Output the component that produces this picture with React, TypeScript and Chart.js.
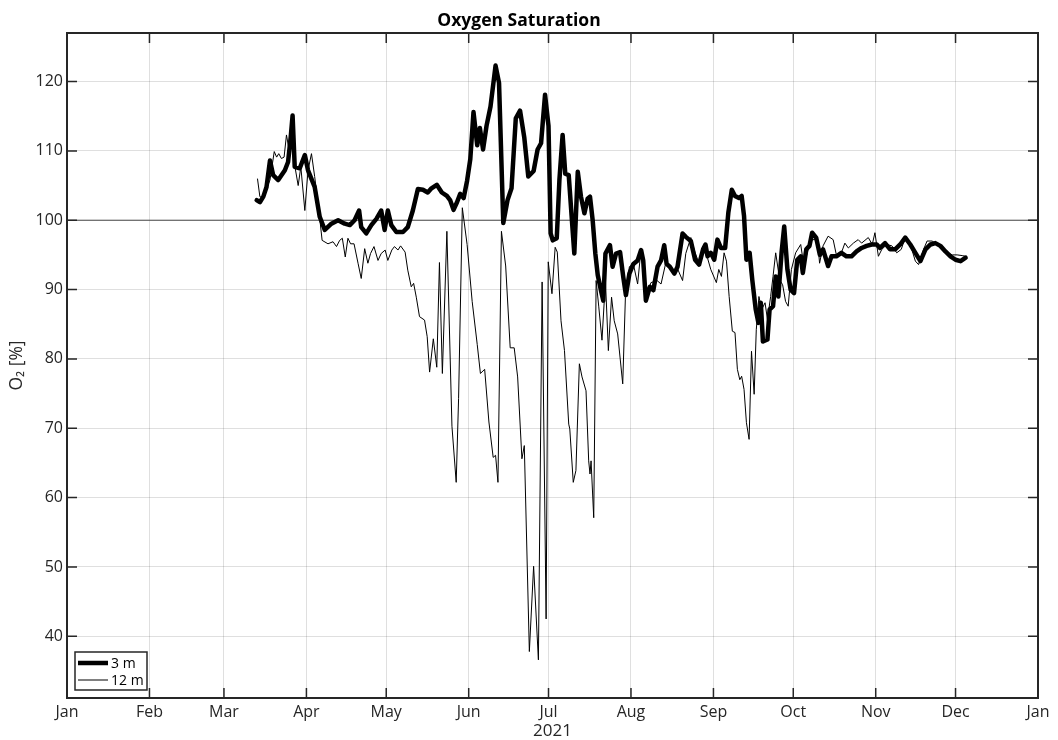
import React, { useEffect, useRef } from "react";
import { Chart, registerables } from "chart.js";

Chart.register(...registerables);

const FONT = "'Open Sans', 'DejaVu Sans', sans-serif";

// x axis: days since 1 Jan 2021
const MONTH_START_DAYS = [0, 31, 59, 90, 120, 151, 181, 212, 243, 273, 304, 334, 365];
const MONTH_LABELS = ["Jan", "Feb", "Mar", "Apr", "May", "Jun", "Jul", "Aug", "Sep", "Oct", "Nov", "Dec", "Jan"];
const X_TITLE = "2021";
const Y_TITLE = "O\u2082 [%]";
const CHART_TITLE = "Oxygen Saturation";
const Y_TICKS = [40, 50, 60, 70, 80, 90, 100, 110, 120];
const Y_MIN = 31.1;
const Y_MAX = 127;
const X_MIN = 0;
const X_MAX = 365;
const REFERENCE_LEVEL = 100;
const SERIES_LABELS = ["3 m", "12 m"];

const DAYS_3M = [
  71.3, 72.5, 73.8, 75.0, 76.3, 77.5, 79.4, 81.9, 83.1, 84.1, 84.8, 85.6, 87.5, 89.4, 90.6, 93.1, 95.0, 96.9,
  99.4, 101.9, 104.4, 106.3, 108.1, 109.8, 110.6, 112.5, 114.4, 116.3, 118.1, 119.4, 120.6, 121.9, 123.8, 126.3,
  128.1, 130.0, 131.9, 133.8, 135.6, 137.0, 139.0, 140.9, 142.8, 144.0, 145.3, 146.6, 147.8, 149.1, 150.4, 151.6,
  152.8, 154.2, 155.2, 156.4, 157.7, 159.2, 161.1, 162.4, 164.0, 165.6, 167.1, 168.7, 170.3, 171.9, 173.4, 175.4,
  176.9, 178.2, 179.7, 181.0, 181.8, 182.6, 184.1, 185.1, 186.3, 187.3, 188.6, 189.8, 190.7, 192.0, 193.2, 194.5,
  195.7, 196.6, 197.6, 198.6, 199.5, 200.7, 201.6, 202.4, 204.1, 205.1, 206.4, 207.9, 209.1, 210.1, 211.4, 212.9,
  214.5, 215.8, 216.6, 217.6, 219.1, 220.4, 222.0, 223.3, 224.5, 225.4, 226.6, 228.3, 229.5, 231.4, 232.6, 234.5,
  236.1, 237.6, 239.1, 240.0, 240.8, 242.0, 243.3, 244.5, 245.8, 247.4, 248.6, 249.9, 251.1, 252.6, 253.6, 254.5,
  255.4, 256.6, 257.6, 258.9, 259.9, 260.8, 261.6, 263.3, 264.1, 265.4, 266.4, 267.4, 268.6, 269.6, 270.8, 272.0,
  273.3, 274.5, 275.8, 276.6, 277.9, 279.1, 280.1, 281.6, 283.0, 284.2, 286.1, 287.4, 289.2, 291.1, 293.0, 294.9,
  296.8, 298.7, 300.6, 302.5, 304.4, 305.6, 307.5, 309.4, 311.3, 313.2, 315.1, 317.0, 318.9, 320.8, 322.7, 324.6,
  326.4, 328.3, 330.2, 332.1, 334.0, 335.9, 337.8,
];
const O2_3M = [
  102.9, 102.6, 103.4, 104.8, 108.6, 106.5, 105.8, 107.2, 108.4, 112.0, 115.1, 107.7, 107.5, 109.4, 107.2, 104.8, 100.5, 98.6,
  99.5, 100.0, 99.5, 99.3, 100.0, 101.4, 99.0, 98.1, 99.3, 100.2, 101.4, 98.6, 101.4, 99.3, 98.3, 98.3,
  99.0, 101.4, 104.5, 104.4, 104.0, 104.6, 105.1, 104.0, 103.5, 102.9, 101.5, 102.6, 103.8, 103.2, 105.7, 108.8,
  115.6, 110.8, 113.3, 110.2, 113.6, 116.4, 122.3, 119.8, 99.6, 102.9, 104.6, 114.7, 115.8, 111.9, 106.3, 107.1,
  110.2, 111.1, 118.1, 113.6, 98.1, 97.1, 97.4, 105.8, 112.3, 106.7, 106.5, 100.0, 95.2, 107.0, 103.4, 101.0,
  103.1, 103.4, 100.0, 95.2, 92.1, 89.9, 88.4, 95.2, 96.4, 93.3, 95.2, 95.4, 91.8, 89.2, 92.3, 93.7,
  94.2, 95.7, 94.2, 88.4, 90.4, 89.9, 93.3, 94.2, 96.4, 93.7, 93.3, 92.3, 93.3, 98.1, 97.6, 97.0,
  94.3, 93.6, 95.8, 96.5, 94.8, 95.3, 94.3, 97.2, 96.0, 96.0, 101.1, 104.4, 103.5, 103.2, 103.5, 100.6,
  94.3, 95.3, 91.4, 87.1, 85.2, 88.1, 82.5, 82.8, 87.1, 87.6, 91.9, 89.0, 95.3, 99.1, 92.9, 90.0,
  89.5, 94.3, 94.8, 92.4, 95.8, 96.3, 98.2, 97.5, 95.0, 95.8, 93.4, 94.8, 94.8, 95.3, 94.8, 94.8,
  95.5, 96.0, 96.3, 96.5, 96.5, 96.0, 96.7, 95.8, 95.8, 96.5, 97.5, 96.5, 95.3, 94.1, 95.8, 96.5,
  96.7, 96.3, 95.5, 94.8, 94.3, 94.1, 94.6,
];

const DAYS_12M = [
  71.6, 72.5, 73.8, 75.0, 76.3, 77.9, 78.8, 79.6, 80.6, 81.6, 82.5, 83.4, 84.4, 85.6, 86.9, 87.9, 89.4, 90.6,
  91.9, 93.1, 94.4, 95.9, 98.1, 100.0, 101.3, 102.5, 103.5, 104.6, 105.6, 106.6, 107.9, 109.4, 110.6, 111.9,
  113.1, 114.1, 115.4, 116.9, 118.1, 119.6, 120.6, 122.1, 123.1, 124.4, 125.4, 127.1, 128.1, 129.4, 130.3, 131.3,
  132.5, 134.4, 135.4, 136.3, 137.7, 139.0, 140.0, 141.1, 142.8, 144.7, 146.3, 147.2, 148.6, 150.4, 152.3, 154.2,
  155.4, 157.0, 158.6, 160.2, 161.1, 162.0, 163.3, 164.9, 166.6, 168.1, 169.4, 171.0, 171.9, 173.8, 175.4, 177.2,
  178.6, 180.1, 180.9, 182.3, 183.5, 184.3, 185.7, 187.0, 188.6, 189.0, 190.3, 191.3, 192.6, 193.6, 195.1, 196.1,
  196.6, 197.0, 198.0, 198.9, 199.9, 201.1, 202.4, 203.5, 204.7, 205.7, 207.0, 208.9, 209.9, 211.4, 212.9, 214.5,
  215.8, 217.6, 219.5, 221.8, 223.3, 225.0, 227.0, 228.3, 229.5, 231.4, 232.6, 234.5, 236.1, 237.6, 239.1, 240.8,
  242.0, 244.1, 245.0, 246.0, 247.0, 247.9, 248.9, 250.1, 251.1, 252.0, 252.9, 253.6, 254.5, 255.4, 256.4, 257.3,
  258.3, 259.1, 260.1, 261.1, 262.4, 263.3, 264.5, 265.4, 266.4, 267.9, 269.0, 270.1, 271.1, 272.3, 273.9, 275.8,
  277.0, 278.6, 280.1, 282.1, 282.9, 284.2, 286.1, 288.0, 289.2, 291.1, 292.4, 293.7, 295.6, 297.4, 298.7, 301.2,
  302.7, 303.7, 305.0, 306.3, 308.2, 310.1, 311.9, 313.6, 315.1, 317.0, 318.9, 320.1, 322.0, 323.3, 325.2, 327.1,
  329.0, 330.9, 332.8, 334.6, 336.5, 337.8,
];
const O2_12M = [
  106.0, 103.4, 103.2, 104.5, 105.8, 109.9, 109.1, 109.6, 108.9, 109.1, 112.3, 110.3, 113.9, 107.9, 105.0, 107.7, 101.4, 107.2,
  109.6, 106.3, 102.4, 97.1, 96.6, 96.9, 96.2, 97.1, 97.4, 94.7, 97.4, 96.6, 96.6, 93.8, 91.6, 95.9,
  93.8, 95.2, 96.2, 94.2, 95.2, 95.7, 94.2, 95.7, 96.2, 95.7, 96.3, 95.4, 92.8, 90.4, 90.9, 88.9,
  86.1, 85.6, 83.2, 78.1, 82.9, 78.8, 93.9, 77.9, 98.4, 70.3, 62.2, 74.3, 101.8, 96.5, 88.3, 82.1,
  77.9, 78.5, 70.9, 65.8, 66.1, 62.2, 98.4, 93.4, 81.6, 81.6, 77.4, 65.6, 67.5, 37.8, 50.1, 36.6,
  91.1, 42.5, 94.0, 89.4, 96.1, 95.4, 85.5, 81.2, 70.6, 69.9, 62.2, 63.9, 79.3, 77.4, 75.4, 65.3,
  63.4, 65.3, 57.1, 91.3, 87.5, 82.7, 91.3, 81.2, 88.9, 85.5, 83.6, 76.4, 88.9, 93.3, 93.7, 90.8,
  95.9, 88.7, 91.0, 91.3, 90.8, 93.7, 93.3, 92.3, 93.0, 91.3, 95.2, 97.5, 95.3, 93.8, 95.8, 94.5,
  92.9, 91.0, 92.9, 91.9, 95.3, 94.1, 89.0, 84.0, 83.8, 78.5, 77.0, 77.5, 75.6, 70.8, 68.4, 81.1,
  74.9, 84.2, 89.0, 87.1, 88.1, 85.7, 89.0, 91.9, 95.3, 91.4, 90.7, 88.3, 87.6, 92.9, 95.3, 96.5,
  93.4, 95.8, 97.2, 97.2, 93.8, 96.3, 97.7, 97.2, 95.0, 95.3, 96.7, 96.0, 96.7, 97.2, 96.7, 97.5,
  96.5, 98.2, 94.8, 95.8, 96.5, 96.3, 95.3, 95.8, 97.5, 96.5, 94.1, 93.6, 95.8, 97.0, 97.0, 96.5,
  95.8, 95.3, 95.0, 95.0, 94.9, 94.8,
];

const toPoints = (xs: number[], ys: number[]) => xs.map((x, i) => ({ x, y: ys[i] }));

const framePlugin = {
  id: "matlabFrame",
  beforeDatasetsDraw(chart: any) {
    const { ctx, chartArea, scales } = chart;
    const { left, right, top, bottom } = chartArea;
    const x = scales.x;
    const y = scales.y;
    ctx.save();
    const py = y.getPixelForValue(REFERENCE_LEVEL);
    ctx.strokeStyle = "#4a4a4a";
    ctx.lineWidth = 1;
    ctx.beginPath();
    ctx.moveTo(left, py);
    ctx.lineTo(right, py);
    ctx.stroke();
    ctx.strokeStyle = "#262626";
    ctx.lineWidth = 1.5;
    ctx.beginPath();
    x.ticks.forEach((t: any) => {
      const px = x.getPixelForValue(t.value);
      ctx.moveTo(px, bottom);
      ctx.lineTo(px, bottom - 10);
      ctx.moveTo(px, top);
      ctx.lineTo(px, top + 10);
    });
    y.ticks.forEach((t: any) => {
      const p = y.getPixelForValue(t.value);
      ctx.moveTo(left, p);
      ctx.lineTo(left + 10, p);
      ctx.moveTo(right, p);
      ctx.lineTo(right - 10, p);
    });
    ctx.stroke();
    ctx.restore();
  },
  afterDatasetsDraw(chart: any) {
    const { ctx, chartArea } = chart;
    const { left, right, top, bottom } = chartArea;
    ctx.save();
    ctx.strokeStyle = "#262626";
    ctx.lineWidth = 2;
    ctx.strokeRect(left, top, right - left, bottom - top);

    const bx = left + 8;
    const bw = 72;
    const bh = 38;
    const by = bottom - 8 - bh;
    ctx.fillStyle = "#ffffff";
    ctx.fillRect(bx, by, bw, bh);
    ctx.lineWidth = 1.5;
    ctx.strokeRect(bx, by, bw, bh);
    const widths = [4.5, 1];
    const rows = [by + 11, by + 28];
    ctx.font = `14px ${FONT}`;
    ctx.textBaseline = "middle";
    ctx.textAlign = "left";
    SERIES_LABELS.forEach((lab, i) => {
      ctx.strokeStyle = "#000000";
      ctx.lineWidth = widths[i];
      ctx.beginPath();
      ctx.moveTo(bx + 3, rows[i]);
      ctx.lineTo(bx + 33, rows[i]);
      ctx.stroke();
      ctx.fillStyle = "#000000";
      ctx.fillText(lab, bx + 36, rows[i] + 1);
    });
    ctx.restore();
  },
};

export default function App() {
  const canvasRef = useRef<HTMLCanvasElement | null>(null);

  useEffect(() => {
    const canvas = canvasRef.current;
    if (!canvas) return;
    const chart = new Chart(canvas, {
      type: "line",
      data: {
        datasets: [
          {
            label: SERIES_LABELS[0],
            data: toPoints(DAYS_3M, O2_3M),
            borderColor: "#000000",
            backgroundColor: "#000000",
            borderWidth: 4.5,
            pointRadius: 0,
            tension: 0,
            borderJoinStyle: "round",
            borderCapStyle: "round",
          },
          {
            label: SERIES_LABELS[1],
            data: toPoints(DAYS_12M, O2_12M),
            borderColor: "#000000",
            backgroundColor: "#000000",
            borderWidth: 1,
            pointRadius: 0,
            tension: 0,
            borderJoinStyle: "round",
          },
        ],
      },
      options: {
        responsive: false,
        animation: false,
        devicePixelRatio: 1,
        layout: { padding: { left: 0, right: 20, top: 0, bottom: 0 } },
        plugins: {
          legend: { display: false },
          tooltip: { enabled: false },
          title: {
            display: true,
            text: CHART_TITLE,
            color: "#000000",
            font: { family: FONT, size: 17.5, weight: "bold", lineHeight: 1.2 },
            padding: { top: 10.5, bottom: 1.5 },
          },
        },
        scales: {
          x: {
            type: "linear",
            min: X_MIN,
            max: X_MAX,
            afterBuildTicks: (scale: any) => {
              scale.ticks = MONTH_START_DAYS.map((v) => ({ value: v }));
            },
            afterFit: (scale: any) => {
              scale.height = 42;
            },
            ticks: {
              autoSkip: false,
              maxRotation: 0,
              padding: 5,
              color: "#262626",
              font: { family: FONT, size: 16 },
              callback: (_v: any, i: number) => MONTH_LABELS[i],
            },
            grid: { color: "rgba(38,38,38,0.15)", lineWidth: 1, drawTicks: false },
            border: { display: false },
            title: {
              display: true,
              text: X_TITLE,
              color: "#262626",
              font: { family: FONT, size: 17, lineHeight: 1 },
              padding: { top: 0, bottom: 0 },
            },
          },
          y: {
            type: "linear",
            min: Y_MIN,
            max: Y_MAX,
            afterBuildTicks: (scale: any) => {
              scale.ticks = Y_TICKS.map((v) => ({ value: v }));
            },
            afterFit: (scale: any) => {
              scale.width = 67;
            },
            ticks: {
              padding: 4,
              color: "#262626",
              font: { family: FONT, size: 16 },
              callback: (v: any) => String(v),
            },
            grid: { color: "rgba(38,38,38,0.15)", lineWidth: 1, drawTicks: false },
            border: { display: false },
            title: {
              display: true,
              text: Y_TITLE,
              color: "#262626",
              font: { family: FONT, size: 17.5, lineHeight: 1.2 },
              padding: { top: 6.5, bottom: 0 },
            },
          },
        },
      },
      plugins: [framePlugin],
    });
    return () => chart.destroy();
  }, []);

  return (
    <div style={{ position: "fixed", left: 0, top: 0, width: 1058, height: 740, background: "#ffffff" }}>
      <canvas ref={canvasRef} width={1058} height={740} style={{ display: "block", width: 1058, height: 740 }} />
    </div>
  );
}
